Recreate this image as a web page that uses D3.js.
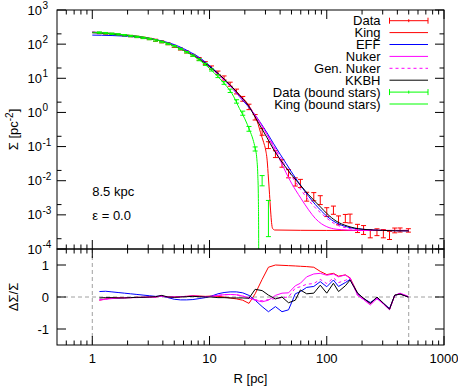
<!DOCTYPE html>
<html>
<head>
<meta charset="utf-8">
<script src="https://cdn.jsdelivr.net/npm/d3@7"></script>
<style>
  body { margin: 0; background: #fff; }
  text { font-family: "Liberation Sans", Arial, sans-serif; font-size: 13px; fill: #000; }
</style>
</head>
<body>
<div id="chart"></div>
<script>
// surface density profile

const dataR = [1.15, 1.3, 1.47, 1.66, 1.88, 2.12, 2.4, 2.71, 3.06,
  3.46, 3.91, 4.42, 5.0, 5.65, 6.38, 7.21,
  8.15, 9.21, 10.4, 11.8, 13.3,
  15.0, 17.0, 19.2, 21.7, 24.5,
  28.1, 31.8, 36.5, 41.5, 47.2, 53.9,
  59.6, 67.4, 77.5, 88, 100, 114, 126, 144, 158, 183, 206, 235, 268, 304, 343, 380, 422, 497];
const dataSigma = [212, 205, 198, 190, 181, 172, 163, 153, 142,
  130, 117, 103, 86, 72, 59, 47,
  37, 28, 20.5, 14.5, 10.2,
  6.7, 4.1, 2.5, 1.45, 0.72,
  0.27, 0.11, 0.06, 0.032, 0.016, 0.0092,
  0.0083, 0.0034, 0.0034, 0.0027, 0.0012, 0.00137, 0.00069, 0.00078, 0.00078, 0.0004, 0.00036, 0.00028, 0.00031, 0.00028, 0.00025, 0.00035, 0.00036, 0.00035];
// error half-widths in dex
const dataErr = [0.02, 0.02, 0.02, 0.02, 0.02, 0.02, 0.02, 0.02, 0.02,
  0.03, 0.03, 0.03, 0.03, 0.03, 0.03, 0.03,
  0.04, 0.04, 0.05, 0.05, 0.06,
  0.06, 0.07, 0.07, 0.08, 0.08,
  0.10, 0.10, 0.10, 0.11, 0.12, 0.12,
  0.12, 0.13, 0.12, 0.13, 0.13, 0.12, 0.13, 0.12, 0.13, 0.12, 0.13, 0.12, 0.1, 0.12, 0.12, 0.07, 0.06, 0.05];

const boundR = [1.15, 1.3, 1.47, 1.66, 1.88, 2.12, 2.4, 2.71, 3.06,
  3.46, 3.91, 4.42, 5.0, 5.65, 6.38, 7.21,
  8.15, 9.21, 10.4, 11.8, 13.3,
  15.0, 17.0, 19.2, 21.7, 24.5, 28.1, 31.8];
const boundSigma = [218, 210, 202, 193, 183, 173, 163, 152, 141,
  128, 115, 101, 87, 72, 58, 46,
  35, 25.5, 17.5, 11.5, 7.3,
  4.3, 2.1, 0.95, 0.33, 0.085, 0.01, 0.00078];
const boundErr = [0.02, 0.02, 0.02, 0.02, 0.02, 0.02, 0.02, 0.02, 0.02,
  0.02, 0.02, 0.02, 0.02, 0.02, 0.02, 0.02,
  0.03, 0.03, 0.03, 0.04, 0.04,
  0.05, 0.05, 0.06, 0.07, 0.06, 0.15, 0.53];

const modelR = [1, 1.2, 1.5, 2, 2.5, 3, 4, 5, 6, 7, 8, 10, 12, 15, 18, 21, 25, 28, 31, 35,
  40, 45, 50, 60, 70, 80, 90, 100, 120, 150, 200, 300, 500];
const effSigma = [184, 182, 178, 170, 160, 148, 122, 97, 74, 56, 43, 23.5, 13.2, 6.0, 2.9, 1.6, 0.76, 0.43, 0.25, 0.125,
  0.06, 0.032, 0.018, 0.0072, 0.0035, 0.002, 0.0013, 0.00092, 0.00059, 0.00044, 0.00038, 0.00035, 0.00034];
const nukerSigma = [228, 218, 204, 183, 166, 150, 119, 90, 67, 51, 39, 21.5, 12.4, 6.0, 3.0, 1.7, 0.74, 0.4, 0.22, 0.1,
  0.04, 0.017, 0.0085, 0.0031, 0.0014, 0.00078, 0.00055, 0.00045, 0.00038, 0.00036, 0.00035, 0.00035, 0.00035];
const genNukerSigma = [226, 216, 203, 182, 166, 150, 119, 90, 67, 51, 39, 21.5, 12.4, 6.0, 3.0, 1.7, 0.74, 0.41, 0.23, 0.11,
  0.05, 0.025, 0.014, 0.0055, 0.0027, 0.0016, 0.0011, 0.0008, 0.00052, 0.00041, 0.00036, 0.00035, 0.00034];
const kkbhSigma = [215, 210, 198, 180, 165, 150, 118, 88, 66, 50, 38.5, 22, 13.2, 6.4, 3.2, 1.75, 0.65, 0.33, 0.18, 0.085,
  0.042, 0.024, 0.015, 0.0072, 0.0039, 0.0024, 0.0016, 0.0011, 0.00066, 0.00047, 0.00038, 0.00035, 0.00034];

const kingR = [1, 1.2, 1.5, 2, 2.5, 3, 4, 5, 6, 7, 8, 10, 12, 15, 18, 21, 24, 26, 27.2, 29, 30, 31, 31.8, 32.5, 33.2, 33.8, 34.5, 36, 100, 500];
const kingSigma = [222, 214, 202, 182, 166, 150, 119, 90, 68, 52, 40, 22.5, 13, 6.3, 3.3, 1.85, 0.85, 0.45, 0.26, 0.13, 0.085, 0.04, 0.012, 0.004, 0.0013, 0.0006, 0.0004, 0.00036, 0.00035, 0.00035];

const kingBoundR = [1, 1.2, 1.5, 2, 2.5, 3, 4, 5, 6, 7, 8, 10, 12, 14, 15, 16, 18, 20, 22, 23.5, 24.5, 25.3, 25.8, 26.1, 26.25, 26.3];
const kingBoundSigma = [225, 216, 204, 184, 167, 151, 119, 89, 66, 49, 36.5, 19.5, 10.5, 5.8, 4.3, 3.0, 1.3, 0.65, 0.3, 0.16, 0.09, 0.045, 0.015, 0.003, 0.0002, 0.000001];

// residuals (data - model) / data, at dataR
const resKing = [-0.10, -0.06, -0.03, -0.02, -0.02, -0.02, -0.01, -0.01, 0.00, 0.00, 0.03, 0.00, 0.00, 0.01, 0.02, 0.04,
  0.03, 0.02, 0.03, 0.02, 0.00, -0.03, -0.06, -0.10, -0.20, 0.10, 0.55, 0.93, 1.00, 0.99, 0.98, 0.97,
  0.96, 0.95, 0.93, 0.80, 0.70, 0.74, 0.65, 0.69, 0.60, 0.12, -0.04, -0.20, -0.02, -0.20, -0.38, 0.05, 0.10, 0.00];
const resEFF = [0.17, 0.18, 0.16, 0.14, 0.12, 0.10, 0.08, 0.06, 0.04, 0.02, 0.03, -0.02, -0.07, -0.09, -0.09, -0.08,
  -0.05, -0.02, 0.03, 0.10, 0.14, 0.16, 0.16, 0.13, 0.05, -0.10, -0.30, -0.46, -0.30, -0.46, -0.40, 0.10,
  0.17, 0.30, 0.33, 0.48, 0.32, 0.53, 0.33, 0.45, 0.55, 0.12, -0.05, -0.17, -0.04, -0.20, -0.36, 0.05, 0.10, 0.00];
const resNuker = [-0.10, -0.07, -0.05, -0.04, -0.03, -0.02, -0.02, -0.01, 0.00, 0.00, 0.03, 0.00, 0.00, 0.01, 0.02, 0.03,
  0.02, 0.01, 0.02, 0.05, 0.07, 0.08, 0.07, 0.03, -0.03, -0.10, -0.15, -0.10, 0.05, 0.12, 0.13, 0.35,
  0.43, 0.63, 0.72, 0.74, 0.68, 0.72, 0.63, 0.69, 0.58, 0.06, -0.08, -0.25, -0.05, -0.22, -0.40, 0.05, 0.12, 0.02];
const resGenNuker = [-0.08, -0.06, -0.04, -0.03, -0.02, -0.02, -0.01, -0.01, 0.00, 0.00, 0.03, 0.00, 0.00, 0.01, 0.02, 0.03,
  0.02, 0.01, 0.02, 0.05, 0.07, 0.08, 0.07, 0.03, -0.03, -0.08, -0.12, -0.08, -0.05, -0.02, 0.00, 0.28,
  0.32, 0.40, 0.42, 0.55, 0.42, 0.60, 0.45, 0.52, 0.60, 0.05, -0.07, -0.22, -0.05, -0.21, -0.39, 0.05, 0.11, 0.01];
const resKKBH = [-0.03, -0.02, -0.02, -0.03, -0.03, -0.02, -0.01, -0.01, 0.00, 0.01, 0.05, 0.00, -0.01, 0.00, 0.01, 0.02,
  0.01, 0.00, 0.00, -0.02, -0.02, -0.03, -0.03, -0.03, -0.04, 0.24, 0.20, 0.06, -0.06, 0.00, -0.18, -0.10,
  0.22, 0.10, 0.12, 0.37, 0.12, 0.43, 0.17, 0.35, 0.53, 0.12, -0.04, -0.20, 0.00, -0.19, -0.38, 0.06, 0.09, 0.00];

const xTickValues = [1, 10, 100, 1000];
const yTickExponents = [3, 2, 1, 0, -1, -2, -3, -4];
const resTickValues = [-1, 0, 1];
const legendLabels = ["Data", "King", "EFF", "Nuker", "Gen. Nuker", "KKBH", "Data (bound stars)", "King (bound stars)"];

const width = 458, height = 386;
const plotLeft = 57, plotRight = 444, plotTop = 10, plotMid = 249, plotBottom = 345;

const svg = d3.select("#chart")
  .append("svg")
  .attr("width", width)
  .attr("height", height);

const x = d3.scaleLog().domain([0.5, 1000]).range([plotLeft, plotRight]);
const y = d3.scaleLog().domain([1e-4, 1e3]).range([plotMid, plotTop]);
const yr = d3.scaleLinear().domain([-1.5, 1.5]).range([plotBottom, plotMid]);

const defs = svg.append("defs");
defs.append("clipPath").attr("id", "clipTop")
  .append("rect").attr("x", plotLeft).attr("y", plotTop).attr("width", plotRight - plotLeft).attr("height", plotMid - plotTop);
defs.append("clipPath").attr("id", "clipBot")
  .append("rect").attr("x", plotLeft).attr("y", plotMid).attr("width", plotRight - plotLeft).attr("height", plotBottom - plotMid);

const gTop = svg.append("g").attr("clip-path", "url(#clipTop)");
const gBot = svg.append("g").attr("clip-path", "url(#clipBot)");

const red = "#ff0000", green = "#00ff00", blue = "#0000ff", magenta = "#ff00ff";

// dashed guides in the residual panel
gBot.append("line")
  .attr("x1", plotLeft).attr("x2", plotRight).attr("y1", yr(0)).attr("y2", yr(0))
  .attr("stroke", "#a0a0a0").attr("stroke-dasharray", "4,3");
[1, 500].forEach(v => {
  gBot.append("line")
    .attr("x1", x(v)).attr("x2", x(v)).attr("y1", plotMid).attr("y2", plotBottom)
    .attr("stroke", "#a0a0a0").attr("stroke-dasharray", "4,3");
});

const curve = d3.line().x(d => x(d[0])).y(d => y(d[1])).curve(d3.curveMonotoneX);
const resLine = d3.line().x(d => x(d[0])).y(d => yr(d[1]));

function drawCurve(rs, vals, color, dash) {
  gTop.append("path")
    .datum(d3.zip(rs, vals))
    .attr("d", curve)
    .attr("fill", "none")
    .attr("stroke", color)
    .attr("stroke-width", 1)
    .attr("stroke-dasharray", dash || null);
}

function drawErrors(rs, vals, errs, color) {
  const g = gTop.append("g").attr("stroke", color).attr("stroke-width", 1).attr("fill", "none");
  rs.forEach((r, i) => {
    const px = x(r);
    const hi = y(vals[i] * Math.pow(10, errs[i]));
    const lo = y(vals[i] / Math.pow(10, errs[i]));
    g.append("line").attr("x1", px).attr("x2", px).attr("y1", hi).attr("y2", lo);
    g.append("line").attr("x1", px - 2.5).attr("x2", px + 2.5).attr("y1", hi).attr("y2", hi);
    g.append("line").attr("x1", px - 2.5).attr("x2", px + 2.5).attr("y1", lo).attr("y2", lo);
  });
}

function drawRes(vals, color, dash) {
  gBot.append("path")
    .datum(d3.zip(dataR, vals))
    .attr("d", resLine)
    .attr("fill", "none")
    .attr("stroke", color)
    .attr("stroke-width", 1)
    .attr("stroke-dasharray", dash || null);
}

drawErrors(dataR, dataSigma, dataErr, red);
drawCurve(kingR, kingSigma, red);
drawCurve(modelR, effSigma, blue);
drawCurve(modelR, nukerSigma, magenta);
drawCurve(modelR, genNukerSigma, magenta, "3,3");
drawCurve(modelR, kkbhSigma, "#000");
drawErrors(boundR, boundSigma, boundErr, green);
drawCurve(kingBoundR, kingBoundSigma, green);

drawRes(resKing, red);
drawRes(resEFF, blue);
drawRes(resNuker, magenta);
drawRes(resGenNuker, magenta, "3,3");
drawRes(resKKBH, "#000");

// frames and ticks
const axes = svg.append("g").attr("stroke", "#000").attr("stroke-width", 1).attr("fill", "none");
axes.append("rect").attr("x", plotLeft).attr("y", plotTop).attr("width", plotRight - plotLeft).attr("height", plotMid - plotTop);
axes.append("rect").attr("x", plotLeft).attr("y", plotMid).attr("width", plotRight - plotLeft).attr("height", plotBottom - plotMid);

function tick(x1, y1, x2, y2) {
  axes.append("line").attr("x1", x1).attr("y1", y1).attr("x2", x2).attr("y2", y2);
}

const major = 9, minor = 4.5;
const xMinor = [];
[0.1, 1, 10, 100].forEach(b => d3.range(2, 10).forEach(k => {
  const v = b * k;
  if (v > 0.5 && v < 1000) xMinor.push(v);
}));

[[plotTop, plotMid], [plotMid, plotBottom]].forEach(([y0, y1]) => {
  xTickValues.forEach(v => {
    tick(x(v), y0, x(v), y0 + major);
    tick(x(v), y1, x(v), y1 - major);
  });
  xMinor.forEach(v => {
    tick(x(v), y0, x(v), y0 + minor);
    tick(x(v), y1, x(v), y1 - minor);
  });
});

yTickExponents.forEach(e => {
  const py = y(Math.pow(10, e));
  tick(plotLeft, py, plotLeft + major, py);
  tick(plotRight, py, plotRight - major, py);
  if (e < 3) {
    const pm = y(2 * Math.pow(10, e));
    tick(plotLeft, pm, plotLeft + minor, pm);
    tick(plotRight, pm, plotRight - minor, pm);
  }
});

resTickValues.forEach(v => {
  tick(plotLeft, yr(v), plotLeft + major, yr(v));
  tick(plotRight, yr(v), plotRight - major, yr(v));
});

// labels
xTickValues.forEach(v => {
  svg.append("text")
    .attr("x", x(v)).attr("y", 362.5)
    .attr("text-anchor", "middle")
    .text(v);
});

yTickExponents.forEach(e => {
  const py = y(Math.pow(10, e));
  svg.append("text")
    .attr("x", 42).attr("y", py + 4.6)
    .attr("text-anchor", "end")
    .text("10");
  svg.append("text")
    .attr("x", 42.5).attr("y", py - 1)
    .style("font-size", "10px")
    .text(e);
});

resTickValues.forEach(v => {
  svg.append("text")
    .attr("x", 49).attr("y", yr(v) + 4.6)
    .attr("text-anchor", "end")
    .text(v);
});

svg.append("text")
  .attr("x", (plotLeft + plotRight) / 2).attr("y", 383)
  .attr("text-anchor", "middle")
  .text("R [pc]");

const yTitle = svg.append("text")
  .attr("transform", `translate(18,${(plotTop + plotMid) / 2}) rotate(-90)`)
  .attr("text-anchor", "middle");
yTitle.append("tspan").text("Σ [pc");
yTitle.append("tspan").attr("dy", -5).style("font-size", "10px").text("-2");
yTitle.append("tspan").attr("dy", 5).text("]");

svg.append("text")
  .attr("transform", `translate(18,${(plotMid + plotBottom) / 2}) rotate(-90)`)
  .attr("text-anchor", "middle")
  .text("ΔΣ/Σ");

svg.append("text").attr("x", x(1)).attr("y", 196).text("8.5 kpc");
svg.append("text").attr("x", x(1)).attr("y", 219.5).text("ε = 0.0");

// legend
const legendStyles = [
  { color: red, bars: true }, { color: red }, { color: blue }, { color: magenta },
  { color: magenta, dash: "3,3" }, { color: "#000" }, { color: green, bars: true }, { color: green }
];
const lx0 = 389.5, lx1 = 428;
legendLabels.forEach((label, i) => {
  const cy = 20.7 + i * 11.9;
  svg.append("text")
    .attr("x", 380.5).attr("y", cy + 4.6)
    .attr("text-anchor", "end")
    .text(label);
  const st = legendStyles[i];
  const g = svg.append("g").attr("stroke", st.color).attr("stroke-width", 1);
  g.append("line").attr("x1", lx0).attr("x2", lx1).attr("y1", cy).attr("y2", cy)
    .attr("stroke-dasharray", st.dash || null);
  if (st.bars) {
    g.append("line").attr("x1", lx0).attr("x2", lx0).attr("y1", cy - 3).attr("y2", cy + 3);
    g.append("line").attr("x1", lx1).attr("x2", lx1).attr("y1", cy - 3).attr("y2", cy + 3);
    const xm = (lx0 + lx1) / 2;
    g.append("line").attr("x1", xm).attr("x2", xm).attr("y1", cy - 1.5).attr("y2", cy + 1.5);
  }
});
</script>
</body>
</html>
